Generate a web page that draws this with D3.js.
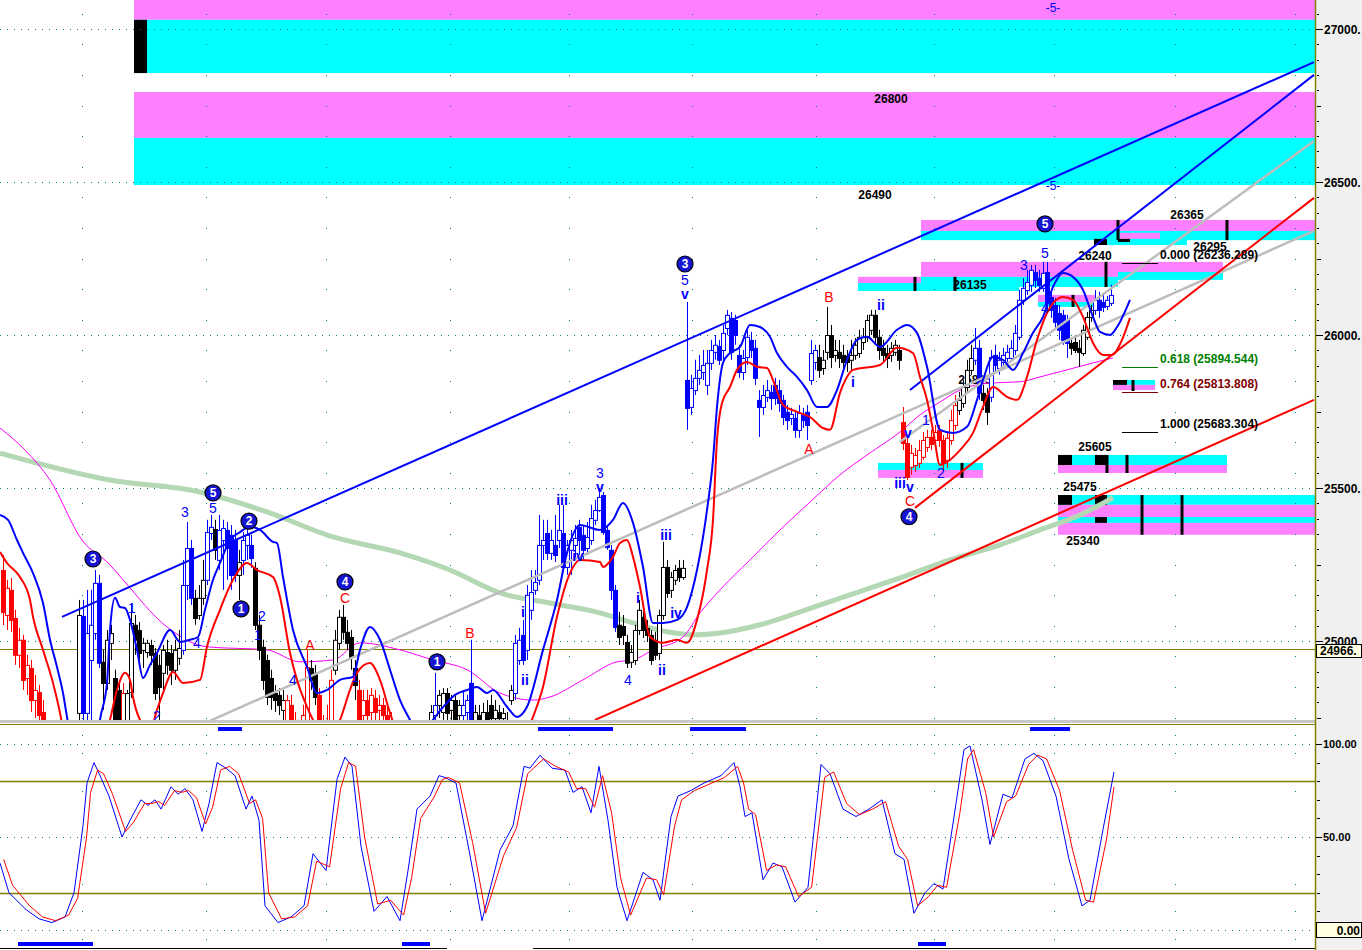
<!DOCTYPE html>
<html><head><meta charset="utf-8">
<script src="https://cdn.jsdelivr.net/npm/d3@7"></script>
<style>
html,body{margin:0;padding:0;background:#fff;overflow:hidden}
svg{display:block}
text{font-family:Arial,"Liberation Sans",sans-serif}
</style></head><body>
<svg id="c" width="1362" height="950"></svg>
<script>
// ---------------- DATA ----------------
const barOpen=[25232,25085,25167,25075,24955,25004,24879,24912,24807,24833,
24768,24709,24644,24660,24611,24670,24644,24693,24693,24765,
25082,24765,24938,25026,25190,24932,24863,24994,24879,24840,
24742,24742,24833,25053,25036,24971,24964,24987,24961,24922,
24896,24964,24961,24906,24945,24971,25183,25304,25141,25085,
25141,25200,25353,25366,25265,25330,25363,25347,25330,25216,
25265,25314,25314,25239,25053,24981,24938,24879,24830,24824,
24775,24742,24791,24742,24677,24693,24742,24912,24896,24824,
24726,24693,24742,24906,24994,25079,25030,25013,24912,24840,
24758,24807,24768,24814,24775,24791,24758,24736,24693,24660,
24628,24651,24611,24637,24660,24683,24693,24726,24758,24791,
24768,24830,24775,24807,24758,24758,24768,24863,24742,24758,
24736,24768,24791,24748,24768,24748,24736,24807,24830,24938,
25020,24971,25102,25167,25200,25314,25353,25288,25314,25330,
25353,25242,25298,25314,25373,25347,25304,25330,25396,25428,
25477,25363,25298,25167,25053,25049,24997,24932,24938,25036,
25079,25043,25020,25004,24961,25085,25242,25167,25200,25239,
25209,25853,25765,25820,25860,25879,25837,25909,25945,25964,
25951,26023,26056,26049,25935,25879,25928,25984,25958,25788,
25765,25798,25814,25837,25820,25788,25749,25729,25729,25690,
25739,25749,25853,25912,25928,25892,25945,26000,25935,25945,
25935,25932,25919,25935,25941,25977,25994,26017,26066,25994,
25958,25941,25935,25945,25951,25716,25647,25569,25575,25582,
25602,25634,25667,25657,25690,25657,25592,25657,25706,25755,
25778,25830,25886,25919,25958,25811,25804,25798,25935,25892,
25912,25925,25925,25951,25994,26115,26147,26164,26206,26186,
26154,26206,26124,26098,26072,26066,26049,25974,25977,25958,
25941,25994,26059,26082,26115,26108,26095,26105];
const barHigh=[25281,25200,25206,25102,25043,25020,24955,24938,24889,24856,
24807,24736,24693,24677,24709,24693,24716,24736,24729,25134,
25134,25167,25167,25232,25216,24971,25036,25053,24906,24863,
24863,24840,25124,25085,25062,25010,25004,25004,24977,24955,
24987,25004,24987,25004,25036,25265,25389,25330,25167,25183,
25265,25396,25412,25396,25412,25396,25389,25379,25363,25298,
25356,25379,25347,25258,25085,25004,24955,24906,24856,24846,
24840,24824,24824,24768,24742,24791,24971,24938,24922,24846,
24758,24791,24906,25036,25102,25118,25069,25036,24938,24873,
24840,24840,24846,24840,24824,24814,24791,24768,24726,24693,
24677,24683,24670,24693,24716,24729,24739,24791,24896,24840,
24846,24846,24824,24824,24807,24840,24824,25004,24791,24791,
24798,24807,24824,24807,24791,24781,24768,24856,25020,25043,
25069,25183,25232,25232,25412,25396,25396,25363,25412,25445,
25445,25330,25363,25379,25396,25379,25389,25445,25461,25500,
25487,25379,25314,25183,25095,25085,25020,24987,25053,25134,
25118,25069,25036,25030,25102,25324,25265,25226,25249,25265,
25265,26108,25870,25919,25935,25951,25951,25984,26000,25984,
26033,26082,26075,26066,25968,25951,26016,26010,25984,25820,
25837,25853,25837,25860,25853,25804,25771,25762,25755,25771,
25762,25771,25984,25968,25968,25951,26092,26033,25984,25984,
25968,25951,25984,25990,26017,26023,26066,26082,26082,26017,
25984,25968,25977,25984,25968,25765,25673,25641,25631,25657,
25683,25690,25690,25706,25706,25673,25683,25755,25804,25814,
25853,25919,25968,26023,25984,25837,25827,25951,25968,25945,
25958,25968,25984,26033,26147,26186,26213,26229,26229,26213,
26239,26239,26147,26121,26098,26082,26066,25990,26000,25984,
26033,26075,26098,26147,26141,26131,26128,26164];
const barLow=[25052,25036,25030,24922,24912,24840,24824,24768,24748,24709,
24660,24611,24595,24562,24579,24595,24611,24660,24660,24726,
24709,24726,24742,25004,24912,24775,24840,24938,24693,24677,
24693,24709,24814,24955,24938,24912,24945,24922,24807,24742,
24840,24889,24856,24873,24922,24955,25134,25118,25053,25069,
25118,25183,25330,25265,25232,25167,25200,25167,25193,25134,
25216,25265,25239,25036,24938,24840,24791,24775,24768,24758,
24742,24693,24677,24628,24611,24660,24709,24840,24791,24660,
24628,24644,24709,24889,24971,25004,24971,24906,24807,24693,
24709,24726,24726,24736,24726,24709,24677,24644,24611,24579,
24562,24562,24579,24595,24618,24637,24651,24693,24726,24748,
24742,24736,24736,24693,24709,24716,24726,24693,24709,24693,
24703,24709,24716,24716,24726,24726,24709,24791,24807,24922,
24922,24938,25069,25151,25183,25265,25265,25265,25258,25304,
25232,25216,25216,25265,25281,25265,25281,25314,25379,25422,
25347,25298,25134,25030,24987,24987,24912,24912,24922,25020,
25010,24997,24922,24938,24938,25069,25141,25141,25183,25193,
25200,25690,25739,25804,25837,25853,25804,25886,25919,25902,
25919,26000,25919,25968,25860,25853,25902,25925,25837,25667,
25739,25781,25755,25771,25749,25706,25690,25706,25664,25664,
25696,25657,25837,25886,25860,25870,25919,25892,25912,25892,
25886,25879,25886,25919,25925,25951,25977,26000,25968,25919,
25912,25892,25912,25932,25886,25624,25526,25543,25553,25566,
25592,25618,25624,25641,25634,25559,25566,25641,25690,25739,
25762,25814,25870,25902,25788,25755,25706,25781,25879,25870,
25892,25912,25912,25935,25984,26098,26131,26141,26154,26141,
26141,26082,26056,26017,25984,25968,25925,25935,25941,25896,
25932,25984,26043,26066,26056,26075,26082,26095];
const barClose=[25095,25174,25069,24955,25004,24873,24922,24807,24840,24758,
24709,24644,24660,24611,24677,24644,24693,24726,24716,25085,
24765,25026,25053,25190,24929,24863,25004,25026,24726,24742,
24830,24830,25059,25004,24961,24994,24994,24955,24830,24850,
24971,24922,24906,24971,24977,25183,25304,25141,25075,25141,
25200,25356,25373,25298,25363,25369,25304,25216,25216,25258,
25330,25347,25271,25053,24971,24873,24817,24817,24807,24791,
24807,24807,24726,24677,24709,24758,24915,24873,24817,24709,
24677,24742,24873,25004,25079,25030,24994,24948,24856,24742,
24807,24758,24824,24768,24791,24758,24726,24693,24660,24628,
24660,24611,24644,24670,24693,24709,24726,24768,24791,24824,
24830,24765,24807,24742,24791,24791,24807,24726,24768,24726,
24768,24742,24748,24775,24748,24765,24742,24840,24994,25004,
24938,25151,25160,25193,25314,25330,25288,25330,25281,25363,
25242,25314,25330,25337,25330,25298,25340,25402,25428,25471,
25356,25307,25167,25046,25013,25020,24929,24964,25036,25102,
25036,25020,24938,24955,25085,25242,25157,25209,25232,25209,
25239,25762,25827,25860,25886,25902,25909,25951,25968,25919,
26007,26066,25945,26000,25879,25925,25994,25951,25860,25765,
25804,25820,25794,25794,25778,25732,25722,25742,25690,25745,
25722,25706,25941,25951,25886,25919,26000,25928,25951,25925,
25912,25912,25935,25968,25994,25994,26049,26066,25994,25951,
25935,25925,25958,25968,25919,25647,25536,25615,25608,25624,
25657,25667,25644,25683,25657,25582,25664,25722,25771,25788,
25830,25886,25925,25958,25811,25788,25749,25928,25902,25919,
25935,25945,25958,26007,26115,26154,26173,26213,26180,26164,
26203,26105,26082,26043,26017,25984,25974,25958,25951,25945,
26017,26059,26082,26115,26082,26092,26115,26131];
// r = red bar, k = black bar, b = blue bar
const barColor="rrrrrrrrrrrrrrrrrrr"+"k"+"bbbbb"+"kkkkk"+"r"+"kkkkkkkkkkkkkk"+"bbb"+"kkk"+"bb"+"k"+"bbbbb"+"k"+"bbb"+"kkkkkkkk"+"rrrrrr"+"kk"+"rrrr"+"kkkkkk"+"rrrrrrrrrrrrrrrrrr"+"k"+"b"+"kkkkkk"+"bbb"+"kkkkkkkkkk"+"bbbbbbbbbbbbbbbbbbbbbbbbbb"+"kkkkkkkkkkkkkkkkk"+"bbbbbbbbbbbbbbbbbbbbbbbbbbbbbbbbb"+"kkkkkkkkkkkkkkkkkkkkk"+"rrrrrrrrrrrrrr"+"kkkk"+"bb"+"kk"+"bbbbbbbbbbbbbbbbbbbb"+"kkkkkk"+"bbbbb";

// band curves [barIndex, price]
const blueBand=[[-0.75,25412],[1.25,25396],[3.5,25330],[5,25288],[7.5,25222],[10,25124],[11.75,25004],[13.5,24915],[15,24830],[16,24752],[18,24611],[20.5,24546],[23,24611],[24.25,24742],[26,24863],[26.75,25036],[28,25141],[29.25,25111],[30.5,25108],[31.75,25069],[33.5,24971],[35,24879],[36.75,24922],[38.5,24961],[41.75,25036],[44.25,24997],[46.75,25004],[48.75,25013],[50.5,25102],[52.5,25200],[54.25,25255],[56.75,25330],[59.25,25356],[61.75,25373],[64.25,25363],[67.5,25324],[68.5,25320],[70,25209],[72.5,25036],[76,24915],[78.5,24830],[81,24840],[84.25,24873],[87.5,24883],[89.25,24971],[91.75,25046],[94.25,25004],[96.75,24906],[99.25,24807],[101.75,24742],[104.25,24677],[107.5,24742],[110.5,24791],[113,24824],[116,24840],[118.5,24850],[121,24830],[122.5,24840],[126,24785],[128.5,24752],[131,24785],[135,24971],[138.5,25134],[141,25288],[144.25,25379],[149.25,25363],[152.5,25396],[155,25451],[157.5,25386],[160,25242],[162.5,25059],[165,25059],[168.5,25069],[171,25111],[173.5,25232],[176,25428],[177.5,25592],[178.5,25765],[180,25909],[181.75,25941],[184.25,25961],[186.75,26033],[189.25,26026],[191.75,25994],[193.5,25941],[196,25896],[198.5,25863],[201,25820],[203.5,25765],[206,25765],[208.5,25820],[211,25919],[213.5,25984],[216,25994],[219.25,25961],[223.5,26017],[226,26033],[228.5,26007],[231,25896],[234.25,25690],[237.5,25680],[241,25700],[243.5,25788],[245,25853],[247.5,25928],[250,25919],[252.5,25886],[255,25941],[257.5,26007],[260,26059],[262.5,26157],[265,26203],[267.5,26190],[270,26147],[272.5,26059],[274.25,26010],[276.75,26000],[278.5,26026],[281.75,26115]];
const redBand=[[-0.75,25291],[1,25255],[4.25,25209],[6.75,25134],[7.5,25079],[10,24971],[12.5,24863],[14.25,24765],[15.5,24677],[19.25,24546],[24.25,24611],[26.75,24742],[28.5,24840],[30.5,24896],[31.75,24873],[32.5,24817],[34.25,24742],[36.75,24709],[38.5,24775],[40,24830],[42.5,24899],[45,24863],[49.25,24873],[51,24981],[54.25,25102],[57.5,25200],[61,25255],[63.5,25232],[67.5,25209],[69.25,25144],[71.75,24961],[73.5,24873],[76,24785],[77.5,24742],[80.5,24677],[84.25,24742],[86.75,24840],[88.5,24896],[91.75,24928],[94.25,24873],[96.75,24765],[99.25,24677],[111.75,24546],[124.25,24611],[132.5,24752],[135,24850],[138.5,25079],[141.75,25222],[144.25,25265],[149.25,25258],[150,25242],[152.5,25275],[154.25,25320],[156,25330],[157.5,25275],[159.25,25177],[161.75,25013],[165,24994],[168.5,25004],[171,24994],[173.5,25069],[176,25232],[177.5,25396],[178.5,25657],[179.75,25778],[181.75,25830],[183.5,25886],[186,25912],[188.5,25896],[191,25892],[192.5,25853],[195,25771],[198.5,25749],[201.75,25732],[205,25696],[206.75,25690],[209.25,25811],[211,25863],[212.5,25886],[219.25,25902],[223.5,25958],[227.5,25941],[229.25,25863],[231,25788],[232.5,25690],[234.25,25575],[236,25585],[239.25,25624],[242.5,25680],[245,25765],[247.5,25830],[251,25798],[253.5,25788],[256,25863],[258.5,25984],[261,26072],[265,26124],[267.5,26115],[270,26059],[272.5,25974],[275,25935],[277.25,25935],[279.75,25984],[281.75,26056]];
const greenAvg=[[-0.75,25614],[26.75,25526],[49.25,25487],[66,25422],[82.5,25340],[99.25,25288],[111.75,25232],[124.25,25157],[136.75,25124],[149.25,25092],[157.5,25059],[166,25030],[172.5,25020],[179.25,25026],[189.25,25053],[199.25,25095],[211.75,25151],[224.25,25206],[236.75,25265],[249.25,25314],[259.25,25363],[269.25,25412],[277.5,25468]];
const pinkAvg=[[-0.75,25696],[5.5,25624],[11.75,25526],[19.75,25330],[26.75,25249],[30,25200],[41,25046],[51,24981],[66,24971],[74.25,24932],[82.5,24938],[89.25,24994],[99.25,24971],[107.5,24938],[116,24906],[124.25,24830],[132.5,24807],[136.75,24817],[145,24873],[153.5,24932],[157.5,24938],[162.5,24971],[170,25013],[174.25,25092],[179.25,25167],[186.75,25265],[194.25,25363],[201.75,25454],[209.25,25543],[216,25608],[224.25,25683],[229.25,25739],[234.25,25781],[239.25,25820],[246.75,25843],[254.25,25847],[259.25,25863],[266,25886],[272.5,25909],[277.5,25925]];
// trend lines [bar1, price1, bar2, price2, colour]
const trendLines=[[51.75,24739,327.75,26340,'gray'],[224.25,25651,327.75,26634,'gray'],[148,24742,327.75,25788,'red'],[228,25435,327.75,26448,'red'],[14.75,25079,327.75,26892,'blue'],[226.75,25820,327.75,26850,'blue']];
// zones [fromBar, toBar, topPrice, bottomPrice, m=magenta c=cyan k=black]
const zones=[
[32.75,328,27100,27030,'m'],[32.75,328,27030,26856,'c'],[32.75,36,27030,26856,'k'],
[32.75,328,26794,26644,'m'],[32.75,328,26644,26490,'c'],
[229.5,328,26376,26340,'m'],[229.5,328,26340,26310,'c'],
[279.25,289.25,26334,26314,'m'],[276,296,26314,26294,'c'],[272.75,276,26314,26294,'k'],[278.75,281.75,26314,26304,'k'],
[213.75,254,26190,26170,'m'],[213.75,254,26170,26144,'c'],
[229.5,278.75,26239,26190,'m'],[229.5,278.75,26190,26157,'c'],
[278.75,305,26239,26206,'m'],[278.75,305,26206,26180,'c'],
[258.75,273,26131,26108,'m'],[258.75,273,26108,26092,'c'],
[277.5,288,25853,25837,'c'],[277.5,288,25837,25820,'m'],[277.5,281,25853,25837,'k'],
[263.75,306,25608,25575,'c'],[263.75,306,25575,25549,'m'],[263.75,267.25,25608,25575,'k'],[273,276,25608,25575,'k'],
[263.75,328,25477,25445,'c'],[263.75,328,25445,25405,'m'],[263.75,328,25405,25386,'c'],[263.75,328,25386,25347,'m'],
[263.75,267.25,25477,25445,'k'],[273,276,25477,25445,'k'],[273,276,25405,25386,'k'],
[218.75,245,25582,25559,'c'],[218.75,245,25559,25533,'m']];
// zone marks [bar, topPrice, bottomPrice]
const zoneMarks=[[278.75,26376,26310],[306,26376,26310],[275.75,26239,26157],[228,26190,26144],[238,26190,26144],[267.5,26131,26092],[282.5,25853,25817],[276,25608,25549],[281,25608,25549],[284.75,25477,25347],[294.75,25477,25347],[239.75,25582,25533]];
// price labels
const priceLabels=['26800','26490','26365','26295','26240','26135','25815','25605','25475','25340'];
const priceLabelBar=[222,218,296,301.75,273,241.75,243,273,269.25,270];
const priceLabelAt=[26771,26458,26392,26288,26258,26164,25853,25634,25504,25327];
// fibonacci
const fibRatio=['0.000','0.618','0.764','1.000'];
const fibPrice=[26236.289,25894.544,25813.808,25683.304];
const fibColor=['#000000','#008000','#800000','#000000'];
// wave labels
const waveText=['1','3','5','4','2','1','4','2','1','i','ii','iii','iv','3','v','4','i','ii','iii','iv','5','v','i','ii','v','1','iii','v','2','3','5','4','-5-','-5-','A','C','B','A','B','C'];
const waveBar=[32.25,45.5,52.5,48.5,64.75,63.75,72.5,38.5,88,130,130.5,139.75,143.75,149.25,149.25,156.25,158.75,164.75,165.75,168.25,170.5,170.5,212.5,219.5,226.25,230.75,224.25,226.75,234.5,255.25,260.5,260.5,262.5,262.5,76.75,85.5,116.75,201.5,206.5,226.75];
const wavePrice=[25108,25422,25435,24994,25082,25020,24873,24755,24883,25095,24873,25461,25278,25549,25504,24873,25141,24906,25346,25092,26180,26134,25847,26098,25680,25722,25516,25504,25549,26229,26268,26088,27070,26487,24987,25141,25026,25628,26124,25458];
const waveColor="bbbbbbbbbbbbbbbbbbbbbbbbbbbbbbbbbbrrrrrr";
const circText=['3','5','2','1','4','1','3','4','5'];
const circBar=[22.5,52.5,61.5,59.5,85.5,108.5,170.5,226.5,260.5];
const circPrice=[25268,25484,25392,25105,25193,24932,26232,25406,26363];
// axes
const priceTicks=[25000,25500,26000,26500,27000];
const priceTickLabels=['25000.','25500.','26000.','26500.','27000.'];
const lastPrice=24966;
const oscTicks=[100,50,0];
const oscTickLabels=['100.00','50.00','0.00'];
const timeGridBars=[19.75,50.75,80.75,111.75,141.5,172.25,203.25,232.75,262.75,293,323];
// stochastic %K (blue) and %D (red)
const stochK=[[-0.75,36],[1.5,20],[5.75,11],[9,6],[12.25,4],[15.5,7],[17.75,20],[20,56],[21,79],[22.75,90],[24.25,83],[26.5,72],[29.75,50],[31.75,59],[34.5,70],[36.25,67],[38,70],[39.5,65],[42,77],[43.75,73],[45.5,76],[47.5,70],[49.75,53],[51.5,68],[53.5,90],[55.75,87],[58,83],[60.75,65],[62.25,72],[64,59],[65.5,13],[68.75,4],[72,7],[75.25,13],[77.5,41],[80.75,32],[83.5,81],[85.5,93],[87.25,88],[89.5,45],[92.75,10],[96,18],[99.25,5],[101.25,32],[103.5,65],[106.75,72],[109,83],[110.5,82],[113.25,79],[116.5,43],[119.75,5],[124.25,43],[127.5,56],[130.25,88],[131.75,87],[134.25,94],[137.25,87],[140.5,86],[142.5,74],[144.75,77],[147,63],[149,88],[151.25,59],[153.5,23],[156,5],[160,31],[162.5,27],[164.25,16],[167,61],[168.75,72],[172,75],[175.25,79],[179.5,83],[182.75,90],[184.25,77],[185.5,61],[187.25,63],[190,27],[192.5,36],[194.75,34],[198,15],[201.25,23],[204.5,89],[206.75,84],[210,65],[213.25,61],[216.5,65],[219.75,70],[223,41],[225.25,38],[227.75,9],[230.5,20],[232.75,25],[235,22],[238.25,68],[240.25,97],[241.75,99],[244.75,70],[246.75,46],[250,73],[252.25,71],[255.5,92],[257.75,95],[260,91],[263.25,72],[266.5,38],[269.75,13],[271.75,16],[275,54],[277.75,85]];
const stochD=[[0.15,38],[2.4,24],[6.65,13],[9.9,7],[13.15,5],[16.4,8],[18.65,17],[20.9,50],[21.9,74],[23.65,86],[25.15,84],[27.4,73],[30.65,53],[32.65,58],[35.4,68],[37.15,68],[38.9,69],[40.4,67],[42.9,75],[44.65,74],[46.4,75],[48.4,71],[50.65,57],[52.4,66],[54.4,86],[56.65,88],[58.9,84],[61.65,68],[63.15,70],[64.9,60],[66.4,20],[69.65,6],[72.9,7],[76.15,13],[78.4,37],[81.65,34],[84.4,76],[86.4,90],[88.15,88],[90.4,50],[93.65,14],[96.9,16],[100.15,8],[102.15,28],[104.4,60],[107.65,71],[109.9,81],[111.4,82],[114.15,79],[117.4,47],[120.65,9],[125.15,40],[128.4,55],[131.15,84],[132.65,87],[135.15,92],[138.15,88],[141.4,85],[143.4,76],[145.65,76],[147.9,66],[149.9,83],[152.15,63],[154.4,28],[156.9,8],[160.9,28],[163.4,27],[165.15,19],[167.9,56],[169.65,70],[172.9,75],[176.15,78],[180.4,82],[183.65,88],[185.15,79],[186.4,65],[188.15,62],[190.9,32],[193.4,35],[195.65,34],[198.9,18],[202.15,23],[205.4,82],[207.65,85],[210.9,68],[214.15,62],[217.4,65],[220.65,69],[223.9,45],[226.15,38],[228.65,13],[231.4,18],[233.65,24],[235.9,23],[239.15,62],[241.15,92],[242.65,97],[245.65,74],[247.65,50],[250.9,69],[253.15,72],[256.4,89],[258.65,94],[260.9,92],[264.15,75],[267.4,43],[270.65,16],[272.65,15],[275.9,49],[277.75,77]];
const oscMarkTop=[[53.75,59.75],[133.75,152.5],[171.75,185.75],[256.75,266.75]];
const oscMarkBottom=[[3.75,22.5],[99.75,106.75],[228.75,235.75]];

// ---------------- DRAW ----------------
const svg=d3.select('#c');
const x=d3.scaleLinear().domain([0,328]).range([3,1315]);
const y=d3.scaleLinear().domain([25000,27000]).range([641,29]);
const yo=d3.scaleLinear().domain([0,100]).range([930,744]);
const col={r:'#ff0000',k:'#000000',b:'#0000ff'};
const zoneCol={m:'#ff80ff',c:'#00ffff',k:'#000000'};

svg.append('rect').attr('width',1362).attr('height',950).attr('fill','#ffffff');
const defs=svg.append('defs');
defs.append('clipPath').attr('id','cm').append('rect').attr('x',0).attr('y',0).attr('width',1315).attr('height',720);
defs.append('clipPath').attr('id','co').append('rect').attr('x',0).attr('y',725).attr('width',1315).attr('height',222);

const gm=svg.append('g').attr('clip-path','url(#cm)');

// zones
gm.selectAll('rect.z').data(zones).join('rect').attr('class','z')
 .attr('x',d=>x(d[0])).attr('width',d=>x(d[1])-x(d[0]))
 .attr('y',d=>y(d[2])).attr('height',d=>y(d[3])-y(d[2]))
 .attr('fill',d=>zoneCol[d[4]]);
gm.selectAll('line.zm').data(zoneMarks).join('line').attr('class','zm')
 .attr('x1',d=>x(d[0])).attr('x2',d=>x(d[0])).attr('y1',d=>y(d[1])).attr('y2',d=>y(d[2]))
 .attr('stroke','#000').attr('stroke-width',3);

// dot grid
const dotRows=d3.range(24750,27100,100);
timeGridBars.forEach(b=>{
  gm.selectAll(null).data(dotRows).join('rect').attr('x',Math.round(x(b))).attr('y',d=>Math.round(y(d))).attr('width',1).attr('height',1).attr('fill','#008080');
});
// dotted price lines
gm.selectAll('line.pg').data(priceTicks).join('line').attr('class','pg')
 .attr('x1',0).attr('x2',1315).attr('y1',d=>Math.round(y(d))+0.5).attr('y2',d=>Math.round(y(d))+0.5)
 .attr('stroke','#008080').attr('stroke-width',1).attr('stroke-dasharray','1,6');
// last price line
gm.append('line').attr('x1',0).attr('x2',1315).attr('y1',649.5).attr('y2',649.5)
 .attr('stroke','#808000').attr('stroke-width',1);

// price labels
gm.selectAll('text.pl').data(priceLabels).join('text').attr('class','pl')
 .attr('x',(d,i)=>x(priceLabelBar[i])).attr('y',(d,i)=>y(priceLabelAt[i])).attr('dy','0.35em')
 .attr('text-anchor','middle').attr('font-size',12).attr('font-weight','bold').attr('fill','#000').text(d=>d);

const curve=d3.line().x(d=>x(d[0])).y(d=>y(d[1])).curve(d3.curveMonotoneX);

gm.append('path').attr('d',curve(greenAvg)).attr('fill','none').attr('stroke','#b4d7b4').attr('stroke-width',5);
gm.append('path').attr('d',curve(pinkAvg)).attr('fill','none').attr('stroke','#ff00ff').attr('stroke-width',1);

// candles
const bars=d3.range(barOpen.length);
const cg=gm.append('g');
cg.selectAll('line.w').data(bars).join('line').attr('class','w')
 .attr('x1',i=>Math.round(x(i))+0.5).attr('x2',i=>Math.round(x(i))+0.5)
 .attr('y1',i=>y(barHigh[i])).attr('y2',i=>y(barLow[i]))
 .attr('stroke',i=>col[barColor[i]]||'#000').attr('stroke-width',1);
cg.selectAll('rect.b').data(bars).join('rect').attr('class','b')
 .attr('x',i=>Math.round(x(i))-1.5).attr('width',4)
 .attr('y',i=>Math.min(y(barOpen[i]),y(barClose[i]))+0.5)
 .attr('height',i=>Math.max(1,Math.abs(y(barOpen[i])-y(barClose[i]))))
 .attr('fill',i=>barClose[i]>barOpen[i]?'#ffffff':(col[barColor[i]]||'#000'))
 .attr('stroke',i=>col[barColor[i]]||'#000').attr('stroke-width',1);

// trend lines
const tlCol={gray:'#bdbdbd',red:'#ff0000',blue:'#0000ff'};
gm.selectAll('line.tl').data(trendLines).join('line').attr('class','tl')
 .attr('x1',d=>x(d[0])).attr('y1',d=>y(d[1])).attr('x2',d=>x(d[2])).attr('y2',d=>y(d[3]))
 .attr('stroke',d=>tlCol[d[4]]).attr('stroke-width',d=>d[4]==='gray'?2.5:2);

// bands
gm.append('path').attr('d',curve(blueBand)).attr('fill','none').attr('stroke','#0000ff').attr('stroke-width',2);
gm.append('path').attr('d',curve(redBand)).attr('fill','none').attr('stroke','#ff0000').attr('stroke-width',2);

// fib
fibPrice.forEach((p,i)=>{
  gm.append('line').attr('x1',x(279.75)).attr('x2',x(288.75)).attr('y1',Math.round(y(p))+0.5).attr('y2',Math.round(y(p))+0.5).attr('stroke',fibColor[i]).attr('stroke-width',1);
  gm.append('text').attr('x',x(289.25)).attr('y',y(p)-4).attr('font-size',12).attr('font-weight','bold').attr('fill',fibColor[i])
   .text(fibRatio[i]+' ('+p.toFixed(3)+')');
});

// wave labels
gm.selectAll('text.wv').data(waveText).join('text').attr('class','wv')
 .attr('x',(d,i)=>x(waveBar[i])).attr('y',(d,i)=>y(wavePrice[i])).attr('dy','0.35em')
 .attr('text-anchor','middle').attr('font-size',d=>d==='-5-'?12:14)
 .attr('font-weight',d=>/^[iv]+$/.test(d)?'bold':'normal')
 .attr('fill',(d,i)=>col[waveColor[i]]).text(d=>d);
const cgp=gm.selectAll('g.cc').data(circText).join('g').attr('class','cc')
 .attr('transform',(d,i)=>`translate(${x(circBar[i])},${y(circPrice[i])})`);
cgp.append('circle').attr('r',8).attr('fill','#1414d2').attr('stroke','#000').attr('stroke-width',1.2);
cgp.append('text').attr('text-anchor','middle').attr('dy','0.36em').attr('font-size',12).attr('font-weight','bold').attr('fill','#fff').text(d=>d);

// separator
svg.append('rect').attr('x',0).attr('y',720).attr('width',1315).attr('height',3).attr('fill','#c8c8c8');
svg.append('line').attr('x1',0).attr('x2',1315).attr('y1',724.5).attr('y2',724.5).attr('stroke','#808000');

// oscillator
const go=svg.append('g').attr('clip-path','url(#co)');
const oscDotRows=[105,95,75,25,10,-5];
timeGridBars.forEach(b=>{
  go.selectAll(null).data(oscDotRows).join('rect').attr('x',Math.round(x(b))).attr('y',d=>Math.round(yo(d))).attr('width',1).attr('height',1).attr('fill','#008080');
});
go.selectAll('line.og').data(oscTicks).join('line').attr('class','og')
 .attr('x1',0).attr('x2',1315).attr('y1',d=>Math.round(yo(d))+0.5).attr('y2',d=>Math.round(yo(d))+0.5)
 .attr('stroke','#008080').attr('stroke-dasharray','1,6');
[80,20].forEach(v=>go.append('line').attr('x1',0).attr('x2',1315).attr('y1',Math.round(yo(v))+0.5).attr('y2',Math.round(yo(v))+0.5).attr('stroke','#808000').attr('stroke-width',1.3));
const oline=d3.line().x(d=>x(d[0])).y(d=>yo(d[1]));
go.append('path').attr('d',oline(stochK)).attr('fill','none').attr('stroke','#0000ff').attr('stroke-width',1);
go.append('path').attr('d',oline(stochD)).attr('fill','none').attr('stroke','#ff0000').attr('stroke-width',1);
go.selectAll('rect.mt').data(oscMarkTop).join('rect').attr('class','mt').attr('x',d=>x(d[0])).attr('width',d=>x(d[1])-x(d[0])).attr('y',727).attr('height',4).attr('fill','#0000ff');
go.selectAll('rect.mb').data(oscMarkBottom).join('rect').attr('class','mb').attr('x',d=>x(d[0])).attr('width',d=>x(d[1])-x(d[0])).attr('y',942).attr('height',4).attr('fill','#0000ff');
svg.append('line').attr('x1',0).attr('x2',447).attr('y1',948.5).attr('y2',948.5).attr('stroke','#000');
svg.append('line').attr('x1',533).attr('x2',1315).attr('y1',948.5).attr('y2',948.5).attr('stroke','#000');

// right axis
svg.append('rect').attr('x',1316).attr('y',0).attr('width',46).attr('height',950).attr('fill','#f0f0f0');
svg.append('line').attr('x1',1315.5).attr('x2',1315.5).attr('y1',0).attr('y2',950).attr('stroke','#808000').attr('stroke-width',1.5);
const ax=svg.append('g');
d3.range(24750,27100,50).forEach(v=>{
  const yy=Math.round(y(v))+0.5;
  ax.append('line').attr('x1',1317).attr('x2',v%250===0?1321:1319).attr('y1',yy).attr('y2',yy).attr('stroke','#000');
});
priceTicks.forEach((p,i)=>{
  const yy=Math.round(y(p))+0.5;
  ax.append('line').attr('x1',1316).attr('x2',1323).attr('y1',yy).attr('y2',yy).attr('stroke','#000');
  ax.append('text').attr('x',1324).attr('y',yy).attr('dy','0.35em').attr('font-size',12).attr('font-weight','bold').attr('fill','#000').text(priceTickLabels[i]);
});
ax.append('rect').attr('x',1316.5).attr('y',644.5).attr('width',45).attr('height',13).attr('fill','#ffffe1').attr('stroke','#000');
ax.append('text').attr('x',1320).attr('y',651).attr('dy','0.35em').attr('font-size',12).attr('font-weight','bold').attr('fill','#000').text(lastPrice+'.');
[90,80,70,60,40,30,20,10].forEach(v=>{
  const yy=Math.round(yo(v))+0.5;
  ax.append('line').attr('x1',1317).attr('x2',1320).attr('y1',yy).attr('y2',yy).attr('stroke','#000');
});
oscTicks.forEach((v,i)=>{
  const yy=Math.round(yo(v))+0.5;
  if(v===0){
    ax.append('rect').attr('x',1316.5).attr('y',yy-8).attr('width',45).attr('height',15).attr('fill','#ffffe1').attr('stroke','#000');
    ax.append('text').attr('x',1360).attr('y',yy).attr('dy','0.35em').attr('text-anchor','end').attr('font-size',12).attr('font-weight','bold').text(oscTickLabels[i]);
  } else {
    ax.append('line').attr('x1',1316).attr('x2',1322).attr('y1',yy).attr('y2',yy).attr('stroke','#000');
    ax.append('text').attr('x',1323).attr('y',yy).attr('dy','0.35em').attr('font-size',11).attr('font-weight','bold').text(oscTickLabels[i]);
  }
});
</script>
</body></html>
